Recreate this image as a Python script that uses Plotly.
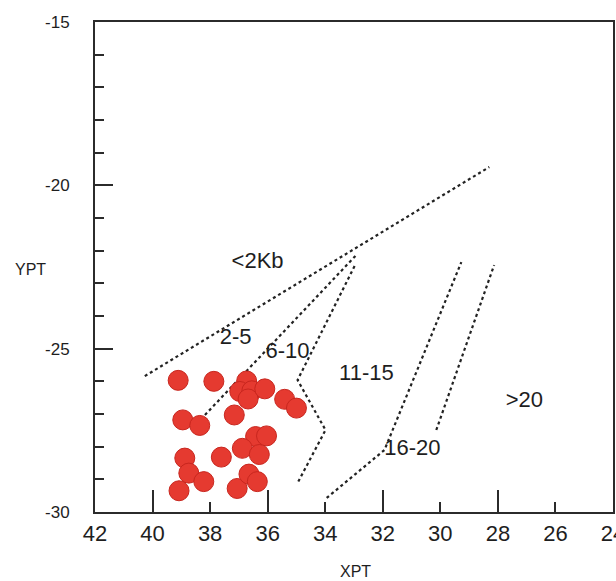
import plotly.graph_objects as go

# Sample points (XPT, YPT)
xpt = [39.11, 37.87, 36.73, 36.97, 36.55, 36.68, 36.10, 35.41, 35.00,
       38.95, 38.36, 37.16, 36.42, 36.04, 36.88, 36.29, 37.61, 38.88,
       38.74, 38.22, 39.08, 37.06, 36.65, 36.36]
ypt = [-25.97, -26.00, -25.99, -26.31, -26.29, -26.54, -26.23, -26.55, -26.82,
       -27.18, -27.35, -27.03, -27.69, -27.67, -28.05, -28.24, -28.32, -28.35,
       -28.81, -29.07, -29.35, -29.28, -28.84, -29.07]

# Field boundary lines
line_a_x = [40.27, 28.30]
line_a_y = [-25.84, -19.44]
line_b_x = [38.18, 32.95]
line_b_y = [-27.03, -22.16]
line_c_x = [32.98, 34.96, 33.99, 34.96]
line_c_y = [-22.47, -25.96, -27.49, -29.11]
line_d_x = [33.95, 31.94, 29.27]
line_d_y = [-29.57, -28.10, -22.35]
line_e_x = [30.14, 28.13]
line_e_y = [-27.49, -22.44]

# Region labels
region_text = ["<2Kb", "2-5", "6-10", "11-15", "16-20", ">20"]
region_x = [36.35, 37.11, 35.31, 32.57, 30.97, 27.08]
region_y = [-22.35, -24.70, -25.13, -25.80, -28.10, -26.63]

x_ticks = [42, 40, 38, 36, 34, 32, 30, 28, 26, 24]
x_tick_text = ["42", "40", "38", "36", "34", "32", "30", "28", "26", "24"]
x_long_ticks = [40, 36, 32, 28]
y_ticks = [-30, -25, -20, -15]
y_tick_text = ["-30", "-25", "-20", "-15"]

FONT = "Liberation Sans, Arial, sans-serif"
AX = "#2b2b2b"
DOT = "#222222"
TXT = "#1e1e1e"

fig = go.Figure()
for lx, ly in [(line_a_x, line_a_y), (line_b_x, line_b_y), (line_c_x, line_c_y),
               (line_d_x, line_d_y), (line_e_x, line_e_y)]:
    fig.add_trace(go.Scatter(x=lx, y=ly, mode="lines",
                             line=dict(color=DOT, width=2.2, dash="dot"),
                             hoverinfo="skip", showlegend=False))

fig.add_trace(go.Scatter(x=xpt, y=ypt, mode="markers",
                         marker=dict(size=20, color="#E53A30",
                                     line=dict(color="#C8261E", width=1)),
                         showlegend=False))

fig.add_trace(go.Scatter(x=region_x, y=region_y, mode="text", text=region_text,
                         textfont=dict(family=FONT, size=22, color=TXT),
                         hoverinfo="skip", showlegend=False))

# invisible trace on the overlay axis carrying the long ticks
fig.add_trace(go.Scatter(x=[x_long_ticks[0]], y=[-30], xaxis="x2", mode="markers",
                         marker=dict(opacity=0), hoverinfo="skip", showlegend=False))

fig.update_layout(
    width=616, height=581,
    margin=dict(l=95, r=3, t=22, b=69, autoexpand=False),
    paper_bgcolor="white", plot_bgcolor="white",
    font=dict(family=FONT, color=TXT),
    xaxis=dict(range=[42, 24], tickvals=x_ticks, ticktext=x_tick_text,
               ticks="inside", ticklen=10, automargin=False,
               tickwidth=2, tickcolor=AX, showline=True, linecolor=AX, linewidth=2,
               mirror=True, showgrid=False, zeroline=False,
               tickfont=dict(family=FONT, size=22, color=TXT),
               ticklabelstandoff=1, ticklabeloverflow="allow"),
    xaxis2=dict(range=[42, 24], overlaying="x", anchor="y", side="bottom",
                tickvals=x_long_ticks, ticks="inside", ticklen=22, tickwidth=2,
                tickcolor=AX, showticklabels=False, showline=False,
                showgrid=False, zeroline=False, automargin=False),
    yaxis=dict(range=[-30, -15], tickvals=y_ticks, ticktext=y_tick_text,
               ticks="inside", ticklen=18, automargin=False,
               tickwidth=2, tickcolor=AX, showline=True, linecolor=AX, linewidth=2,
               mirror=True, showgrid=False, zeroline=False,
               minor=dict(dtick=1, ticks="inside", ticklen=9, tickwidth=2,
                          tickcolor=AX),
               tickfont=dict(family=FONT, size=17, color=TXT),
               ticklabelstandoff=20),
    annotations=[
        dict(text="XPT", xref="paper", yref="paper", x=0.502, y=-0.1224,
             xanchor="center", yanchor="middle", showarrow=False,
             font=dict(family=FONT, size=16, color=TXT)),
        dict(text="YPT", xref="paper", yref="paper", x=-0.125, y=0.494,
             xanchor="center", yanchor="middle", showarrow=False,
             font=dict(family=FONT, size=16, color=TXT)),
    ],
)

fig.write_html("out.html")
